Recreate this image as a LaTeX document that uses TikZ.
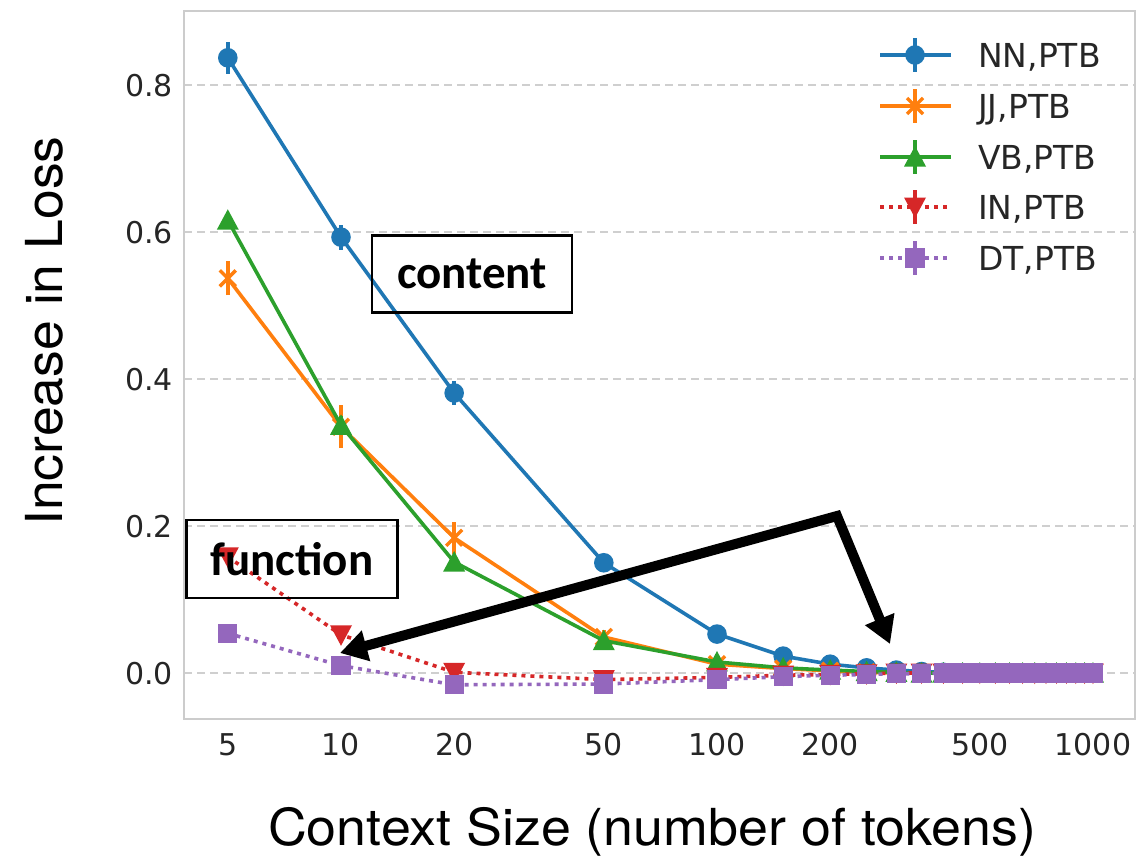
\documentclass[tikz,border=0pt]{standalone}
\usepackage{fontspec}
\setmainfont{DejaVu Sans}
\newfontfamily\helv{TeX Gyre Heros}
\newfontfamily\calib{Carlito}
\usetikzlibrary{arrows.meta}
\definecolor{cNN}{HTML}{1F77B4}
\definecolor{cJJ}{HTML}{FF7F0E}
\definecolor{cVB}{HTML}{2CA02C}
\definecolor{cIN}{HTML}{D62728}
\definecolor{cDT}{HTML}{9467BD}
\definecolor{txt}{HTML}{262626}
\definecolor{spinec}{HTML}{CCCCCC}
\definecolor{gridc}{HTML}{CFCFCF}

\newcommand\mkpath[1]{%
  \gdef\mypath{}%
  \foreach \cc/\vv/\ee [count=\i] in #1 {%
    \ifnum\i=1 \xdef\mypath{({X(\cc)},{Y(\vv)})}%
    \else \xdef\mypath{\mypath -- ({X(\cc)},{Y(\vv)})}\fi}}

\def\tailz{500/0/0, 550/0/0, 600/0/0, 650/0/0, 700/0/0, 750/0/0, 800/0/0, 850/0/0, 900/0/0, 950/0/0, 1000/0/0}
\edef\dNN{5/.837/.022, 10/.593/.017, 20/.381/.016, 50/.150/.008, 100/.053/.006, 150/.023/.004, 200/.012/.003, 250/.007/.002, 300/.004/.002, 350/.002/.001, 400/.001/.001, 450/.0005/.001, \tailz}
\edef\dJJ{5/.537/.023, 10/.335/.029, 20/.184/.022, 50/.049/.01, 100/.012/.005, 150/.006/.003, 200/.003/.002, 250/.001/.001, 300/0/.001, 350/0/0, 400/0/0, 450/0/0, \tailz}
\edef\dVB{5/.616/.008, 10/.337/.012, 20/.151/.01, 50/.044/.006, 100/.015/.004, 150/.007/.002, 200/.004/.002, 250/.002/.001, 300/.001/.001, 350/0/0, 400/0/0, 450/0/0, \tailz}
\edef\dIN{5/.158/.008, 10/.052/.006, 20/.001/.004, 50/-.009/.003, 100/-.006/.002, 150/-.003/.002, 200/-.002/.001, 250/-.001/.001, 300/0/0, 350/0/0, 400/0/0, 450/0/0, \tailz}
\edef\dDT{5/.054/.006, 10/.010/.004, 20/-.016/.003, 50/-.015/.003, 100/-.009/.002, 150/-.005/.002, 200/-.003/.001, 250/-.002/.001, 300/-.001/.001, 350/-.001/0, 400/0/0, 450/0/0, \tailz}

\tikzset{
  serie/.style={line width=3.6pt, line join=round},
  dotline/.style={dash pattern=on 4pt off 5pt},
  errbar/.style={line width=3.6pt, solid},
  mcirc/.pic={\fill (0,0) circle (9.8);},
  msq/.pic={\fill (-9.6,-9.6) rectangle (9.6,9.6);},
  mtriu/.pic={\fill (0,-11) -- (11,9.5) -- (-11,9.5) -- cycle;},
  mtrid/.pic={\fill (0,11) -- (11,-9.5) -- (-11,-9.5) -- cycle;},
  mx/.pic={\draw[line width=3.4pt, solid] (-8,-8) -- (8,8) (-8,8) -- (8,-8);},
  gridline/.style={draw=gridc, line width=2pt, dash pattern=on 8pt off 5pt},
  spine/.style={draw=spinec, line width=2.5pt},
  ticklab/.style={text=txt, inner sep=0pt, font=\fontsize{30}{36}\selectfont},
  legtext/.style={text=txt, inner sep=0pt, anchor=base west, font=\fontsize{33}{40}\selectfont},
  axlab/.style={text=black, inner sep=0pt, anchor=base, font=\helv\fontsize{51}{60}\selectfont},
  annobox/.style={draw=black, line width=2.5pt, inner sep=0pt, font=\calib\bfseries\fontsize{47}{56}\selectfont},
  bigarrow/.style={line width=10pt, line join=miter, arrows={Triangle[length=27pt,width=30pt]-Triangle[length=27pt,width=30pt]}}
}

\begin{document}
\begin{tikzpicture}[x=1pt,y=-1pt,
  declare function={X(\t)=341+163.29*ln(\t/10); Y(\u)=673-735*(\u);}]
\useasboundingbox[fill=white] (0,0) rectangle (1137,857);

% grid
\foreach \g/\gl in {0/0.0,0.2/0.2,0.4/0.4,0.6/0.6,0.8/0.8} {
  \draw[gridline] (184,{Y(\g)}) -- (1135,{Y(\g)});
  \node[ticklab, anchor=base east] (yt\g) at (173,{Y(\g)+11.5}) {\gl};
}
\foreach \c in {5,10,20,50,100,200,500,1000} {
  \node[ticklab, anchor=base] (xt\c) at ({X(\c)},755) {\c};
}

% NN
\mkpath{\dNN}
\draw[serie, cNN] \mypath;
\foreach \cc/\vv/\ee in \dNN {
  \draw[errbar, cNN] ({X(\cc)},{Y(\vv-\ee)}) -- ({X(\cc)},{Y(\vv+\ee)});
  \pic[cNN] at ({X(\cc)},{Y(\vv)}) {mcirc};
}
% JJ
\mkpath{\dJJ}
\draw[serie, cJJ] \mypath;
\foreach \cc/\vv/\ee in \dJJ {
  \draw[errbar, cJJ] ({X(\cc)},{Y(\vv-\ee)}) -- ({X(\cc)},{Y(\vv+\ee)});
  \pic[cJJ] at ({X(\cc)},{Y(\vv)}) {mx};
}
% VB
\mkpath{\dVB}
\draw[serie, cVB] \mypath;
\foreach \cc/\vv/\ee in \dVB {
  \draw[errbar, cVB] ({X(\cc)},{Y(\vv-\ee)}) -- ({X(\cc)},{Y(\vv+\ee)});
  \pic[cVB] at ({X(\cc)},{Y(\vv)}) {mtriu};
}
% IN
\mkpath{\dIN}
\draw[serie, dotline, cIN] \mypath;
\foreach \cc/\vv/\ee in \dIN {
  \draw[errbar, cIN] ({X(\cc)},{Y(\vv-\ee)}) -- ({X(\cc)},{Y(\vv+\ee)});
  \pic[cIN] at ({X(\cc)},{Y(\vv)}) {mtrid};
}
% DT
\mkpath{\dDT}
\draw[serie, dotline, cDT] \mypath;
\foreach \cc/\vv/\ee in \dDT {
  \draw[errbar, cDT] ({X(\cc)},{Y(\vv-\ee)}) -- ({X(\cc)},{Y(\vv+\ee)});
  \pic[cDT] at ({X(\cc)},{Y(\vv)}) {msq};
}

% legend
\foreach \ly/\col/\mk/\lab/\dsh in {55/cNN/mcirc/{NN,PTB}/solid, 106/cJJ/mx/{JJ,PTB}/solid, 157/cVB/mtriu/{VB,PTB}/solid, 207/cIN/mtrid/{IN,PTB}/dotline, 258/cDT/msq/{DT,PTB}/dotline} {
  \coordinate (la\ly) at (880,\ly);
  \coordinate (lb\ly) at (951,\ly);
  \draw[serie, \col, \dsh] (la\ly) -- (lb\ly);
  \draw[errbar, \col] (915,\ly-17) -- (915,\ly+17);
  \pic[\col] at (915,\ly) {\mk};
  \node[legtext] (lt\ly) at (978,\ly+12) {\lab};
}

% spines
\draw[spine] (184,11) rectangle (1135,719);

% axis labels
\node[axlab, rotate=90] (ylab) at (62,331) {\scalebox{1.05}[1]{Increase in Loss}};
\node[axlab] (xlab) at (652,845) {\scalebox{1.055}[1]{Context Size (number of tokens)}};

% annotations
\node[annobox, minimum width=200pt, minimum height=77pt] (content) at (472,274) {content};
\node[annobox, minimum width=211pt, minimum height=78pt] (function) at (292,559) {function};

\coordinate (corner) at (837,516);
\coordinate (tipL) at (340,653);
\coordinate (tipR) at (890,644);
\draw[bigarrow] (tipL) -- (corner) -- (tipR);
\end{tikzpicture}
\end{document}
